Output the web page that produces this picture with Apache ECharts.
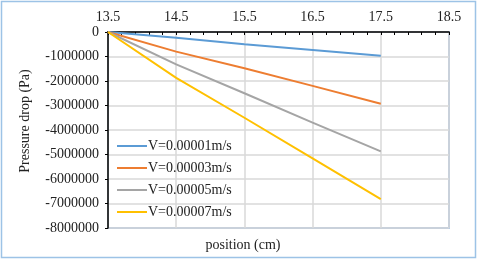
<!DOCTYPE html>
<html><head><meta charset="utf-8">
<script src="https://cdn.jsdelivr.net/npm/echarts@6/dist/echarts.min.js"></script>
<style>html,body{margin:0;padding:0;background:#fff}#c{width:480px;height:261px}</style>
</head><body><div id="c"></div>
<script>
const positions = [13.5, 14.5, 15.5, 16.5, 17.5];
const seriesNames = ['V=0.00001m/s', 'V=0.00003m/s', 'V=0.00005m/s', 'V=0.00007m/s'];
const v1 = [0, -230000, -500000, -730000, -970000];
const v3 = [0, -800000, -1480000, -2200000, -2930000];
const v5 = [0, -1320000, -2500000, -3700000, -4870000];
const v7 = [0, -1870000, -3500000, -5160000, -6820000];
const xTicks = [13.5, 14.5, 15.5, 16.5, 17.5, 18.5];
const colors = ['#5b9bd5', '#ed7d31', '#a5a5a5', '#ffc000'];
const values = [v1, v3, v5, v7];
const font = 'Liberation Serif';
const chart = echarts.init(document.getElementById('c'), null, {renderer: 'canvas'});
chart.setOption({
  animation: false,
  grid: {left: 108, right: 31, top: 32, bottom: 33, show: true, borderColor: '#7aa7d8', borderWidth: 1.5, backgroundColor: 'transparent'},
  xAxis: {
    type: 'value', position: 'top', min: xTicks[0], max: xTicks[xTicks.length - 1], interval: 1,
    axisLine: {show: true, lineStyle: {color: '#000', width: 1.5}},
    axisTick: {show: true, inside: true, length: 3, lineStyle: {color: '#000'}},
    minorTick: {show: true, splitNumber: 5, length: 3, lineStyle: {color: '#000'}},
    axisLabel: {fontFamily: font, fontSize: 14, color: '#222', margin: 8, showMinLabel: true, showMaxLabel: true},
    splitLine: {show: true, lineStyle: {color: '#d9d9d9', width: 1.5}}
  },
  yAxis: {
    type: 'value', min: -8000000, max: 0, interval: 1000000,
    axisLine: {show: true, onZero: false, lineStyle: {color: '#000', width: 1.5}},
    axisTick: {show: true, length: 3, lineStyle: {color: '#000'}},
    axisLabel: {fontFamily: font, fontSize: 14, color: '#222', margin: 9, formatter: v => String(v)},
    splitLine: {show: true, lineStyle: {color: '#d9d9d9', width: 1.5}}
  },
  legend: {
    orient: 'vertical', left: 112, top: 134, itemWidth: 30, itemHeight: 2, itemGap: 8,
    icon: 'rect',
    textStyle: {fontFamily: font, fontSize: 14, color: '#222', padding: [0, 0, 0, -4]},
    data: seriesNames
  },
  series: values.map((v, i) => ({
    name: seriesNames[i], type: 'line', showSymbol: false, symbol: 'none',
    lineStyle: {color: colors[i], width: 2}, itemStyle: {color: colors[i]},
    data: positions.map((p, j) => [p, v[j]])
  })),
  graphic: [
    {type: 'rect', shape: {x: 1.5, y: 1.5, width: 474, height: 256}, style: {fill: 'none', stroke: '#9dc3e6', lineWidth: 1.5}, silent: true},
    {type: 'text', x: 243, y: 245, style: {text: 'position (cm)', font: '14px "Liberation Serif"', fill: '#222', align: 'center', verticalAlign: 'middle'}},
    {type: 'text', x: 25, y: 121, rotation: Math.PI / 2, style: {text: 'Pressure drop (Pa)', font: '14px "Liberation Serif"', fill: '#222', align: 'center', verticalAlign: 'middle'}}
  ]
});
</script></body></html>
